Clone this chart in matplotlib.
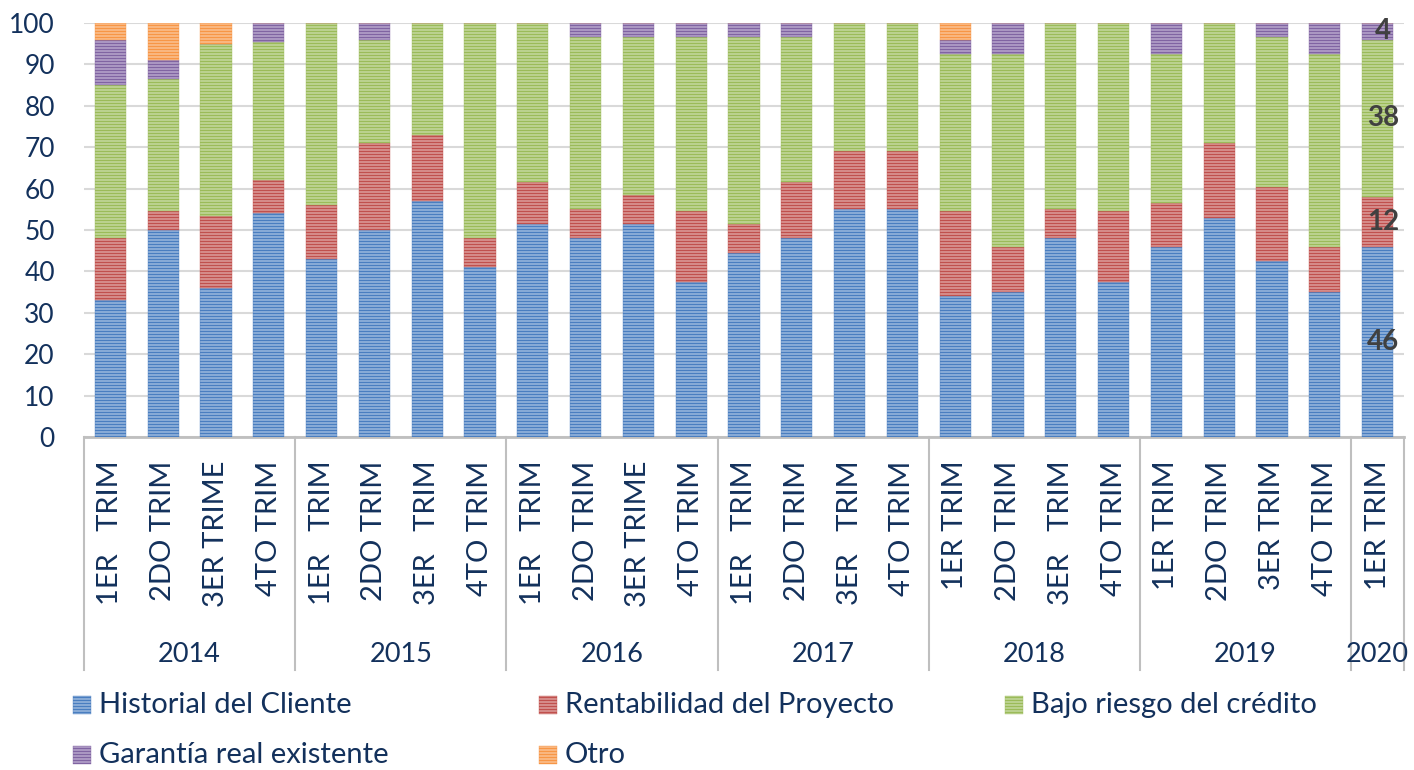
import numpy as np
import matplotlib
matplotlib.use("Agg")
import matplotlib.pyplot as plt
import matplotlib.transforms as mtransforms
from matplotlib.patches import Rectangle

# --- data ---
years = ["2014", "2015", "2016", "2017", "2018", "2019", "2020"]
quarters_per_year = [4, 4, 4, 4, 4, 4, 1]
quarter_labels = [
    "1ER   TRIM", "2DO TRIM", "3ER TRIME", "4TO TRIM",
    "1ER   TRIM", "2DO TRIM", "3ER   TRIM", "4TO TRIM",
    "1ER   TRIM", "2DO TRIM", "3ER TRIME", "4TO TRIM",
    "1ER   TRIM", "2DO TRIM", "3ER   TRIM", "4TO TRIM",
    "1ER TRIM", "2DO TRIM", "3ER   TRIM", "4TO TRIM",
    "1ER TRIM", "2DO TRIM", "3ER TRIM", "4TO TRIM",
    "1ER TRIM",
]
historial    = [33, 50, 36, 54, 43, 50, 57, 41, 51.5, 48, 51.5, 37.5, 44.5, 48, 55, 55,
                34, 35, 48, 37.5, 46, 53, 42.5, 35, 46]
rentabilidad = [15, 4.5, 17.5, 8, 13, 21, 16, 7, 10, 7, 7, 17, 7, 13.5, 14, 14,
                20.5, 11, 7, 17, 10.5, 18, 18, 11, 12]
bajo_riesgo  = [37, 32, 41.5, 33.5, 44, 25, 27, 52, 38.5, 41.5, 38, 42, 45, 35, 31, 31,
                38, 46.5, 45, 45.5, 36, 29, 36, 46.5, 38]
garantia     = [11, 4.5, 0, 4.5, 0, 4, 0, 0, 0, 3.5, 3.5, 3.5, 3.5, 3.5, 0, 0,
                3.5, 7.5, 0, 0, 7.5, 0, 3.5, 7.5, 4]
otro         = [4, 9, 5, 0, 0, 0, 0, 0, 0, 0, 0, 0, 0, 0, 0, 0,
                4, 0, 0, 0, 0, 0, 0, 0, 0]
last_labels  = ["46", "12", "38", "4"]

series_names = ["Historial del Cliente", "Rentabilidad del Proyecto",
                "Bajo riesgo del crédito", "Garantía real existente", "Otro"]
line_colors = ["#4A7EC0", "#C0504D", "#9BBB59", "#8064A2", "#F79646"]
face_colors = ["#C6D7EE", "#EBC6C5", "#DBE8C4", "#D5CAE3", "#FCD8BA"]

TXT = "#13315C"
GRID = "#D9D9D9"
AXC = "#BFBFBF"

# dpi 90 so that the '-----' hatch repeats every 3 px, as in the reference
DPI = 90
S = 100 / DPI   # sizes below were tuned in "points at 100 dpi"

plt.rcParams["font.family"] = ["Lato", "DejaVu Sans"]
plt.rcParams["hatch.linewidth"] = 1.6

W, H = 1414, 770
fig = plt.figure(figsize=(W / DPI, H / DPI), dpi=DPI)
x0, x1, ytop, ybot = 84, 1404, 23, 437
ax = fig.add_axes([x0 / W, 1 - ybot / H, (x1 - x0) / W, (ybot - ytop) / H])

series = [historial, rentabilidad, bajo_riesgo, garantia, otro]
x = np.arange(len(quarter_labels))
bottom = np.zeros(len(x))
for vals, name, lc, fc in zip(series, series_names, line_colors, face_colors):
    vals = np.array(vals, dtype=float)
    ax.bar(x, vals, width=0.59, bottom=bottom, color=fc, edgecolor=lc,
           linewidth=0.3, hatch="-----", label=name, zorder=3)
    bottom += vals

# value labels on the last bar
last = len(x) - 1
cum = 0
for vals, lbl in zip(series[:4], last_labels):
    v = vals[last]
    ax.text(last + 0.1, cum + v / 2, lbl, ha="center", va="center",
            fontsize=20 * S, fontweight="bold", color="#404040", zorder=5)
    cum += v

ax.set_xlim(-0.5, len(x) - 0.5)
ax.set_ylim(0, 100)
ax.set_yticks(range(0, 101, 10))
ax.yaxis.grid(True, color=GRID, linewidth=1.5 * S, zorder=0)
ax.set_axisbelow(True)
for s in ["left", "top", "right"]:
    ax.spines[s].set_visible(False)
ax.spines["bottom"].set_color(AXC)
ax.spines["bottom"].set_linewidth(2.0 * S)
ax.tick_params(axis="y", length=0, pad=21 * S, labelsize=19 * S, labelcolor=TXT)
ax.set_xticks(x)
ax.set_xticklabels(quarter_labels, rotation=90, fontsize=21 * S, color=TXT)
ax.tick_params(axis="x", length=0, pad=17 * S)

# multi-level category axis: year separators and labels
trans = mtransforms.blended_transform_factory(ax.transData, ax.transAxes)
axis_h = ybot - ytop
sep_depth = -(670 - ybot) / axis_h
year_y = -(655 - ybot) / axis_h
edges = np.concatenate([[0], np.cumsum(quarters_per_year)]) - 0.5
for e in edges:
    ax.plot([e, e], [0, sep_depth], transform=trans, color=AXC, linewidth=1.5 * S,
            clip_on=False, zorder=1)
for i, yr in enumerate(years):
    ax.text((edges[i] + edges[i + 1]) / 2, year_y, yr, transform=trans,
            ha="center", va="center", fontsize=19.5 * S, color=TXT)

# legend drawn by hand in pixel positions
leg_cols = [73, 539, 1005]
leg_rows = [705, 755]
order = [(0, 0), (1, 0), (2, 0), (0, 1), (1, 1)]
for (c, r), name, lc, fc in zip(order, series_names, line_colors, face_colors):
    mx, my = leg_cols[c], leg_rows[r]
    fig.patches.append(Rectangle((mx / W, 1 - (my + 9) / H), 18 / W, 18 / H,
                                 transform=fig.transFigure, facecolor=fc,
                                 edgecolor=lc, linewidth=0.3, hatch="-----"))
    fig.text((mx + 26) / W, 1 - my / H, name, ha="left", va="center",
             fontsize=21 * S, color=TXT)

fig.savefig("out.png", dpi=DPI)
